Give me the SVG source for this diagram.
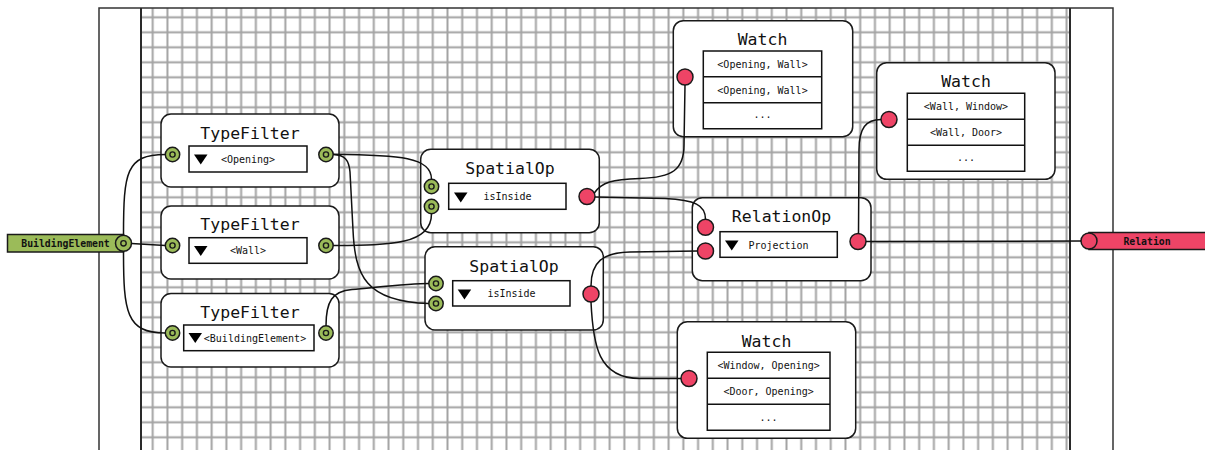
<svg xmlns="http://www.w3.org/2000/svg" xmlns:xlink="http://www.w3.org/1999/xlink" width="1205" height="450" viewBox="0 0 1205 450">
  <style>
    text { font-family: "DejaVu Sans Mono", "Liberation Mono", monospace; fill: #111; text-anchor: middle; }
    .title { font-size: 16.5px; }
    .small { font-size: 10px; }
    .label { font-size: 9.8px; font-weight: bold; }
    .frame { stroke: #333; stroke-width: 1.5; fill: none; }
    .border { stroke: #2a2a2a; stroke-width: 2; fill: none; }
    .node { fill: #fff; stroke: #1a1a1a; stroke-width: 1.5; }
    .box { fill: #fff; stroke: #111; stroke-width: 1.5; }
    .wire { fill: none; stroke: #111; stroke-width: 1.5; }
    .green { fill: #9bbb59; stroke: #1a1a1a; stroke-width: 1.5; }
    .red { fill: #ee4466; stroke: #1a1a1a; stroke-width: 1.5; }
  </style>
  <defs>
    <pattern id="grid" patternUnits="userSpaceOnUse" x="145.33" y="9.8" width="14.74" height="15">
      <path d="M7.37,0 V15 M0,7.5 H14.74" stroke="#a3a3a3" stroke-width="2" fill="none"/>
    </pattern>
    <g id="gport">
      <circle r="7.2" class="green"/>
      <circle r="2.6" fill="none" stroke="#1a1a1a" stroke-width="1.4"/>
    </g>
    <circle id="rport" r="8" class="red"/>
    <path id="tri" d="M0,0 H13.5 L6.75,10 Z" fill="#000"/>
  </defs>

  <!-- background and canvas frame -->
  <rect width="1205" height="450" fill="#fff"/>
  <rect x="141" y="8" width="929" height="442" fill="url(#grid)"/>
  <path class="frame" d="M99,452 V8 H1113 V452"/>
  <path class="border" d="M141,8 V452 M1070,8 V452"/>

  <!-- source terminal -->
  <g id="src-building-element">
    <rect x="7.5" y="234.5" width="116" height="17.5" class="green"/>
    <text x="65.5" y="246.8" class="label">BuildingElement</text>
    <circle cx="123.5" cy="243.3" r="8" class="green"/>
    <circle cx="123.5" cy="243.3" r="2.7" fill="none" stroke="#1a1a1a" stroke-width="1.4"/>
  </g>

  <!-- sink terminal -->
  <g id="sink-relation">
    <rect x="1089" y="232.5" width="120" height="17" class="red"/>
    <text x="1147" y="244.5" class="label">Relation</text>
    <use xlink:href="#rport" x="1089" y="241"/>
  </g>

  <g id="typefilter-opening">
    <rect x="161" y="114" width="178" height="73" rx="10" class="node"/>
    <text x="250" y="138.5" class="title">TypeFilter</text>
    <rect x="189" y="146" width="118" height="26" class="box"/>
    <use xlink:href="#tri" x="194" y="154.5"/>
    <text x="248" y="162.5" class="small">&lt;Opening&gt;</text>
    <use xlink:href="#gport" x="172.5" y="154.5"/>
    <use xlink:href="#gport" x="326" y="154.5"/>
  </g>

  <g id="typefilter-wall">
    <rect x="161" y="206" width="178" height="73" rx="10" class="node"/>
    <text x="250" y="230" class="title">TypeFilter</text>
    <rect x="189" y="237.7" width="118" height="25.6" class="box"/>
    <use xlink:href="#tri" x="194" y="246"/>
    <text x="248" y="254.3" class="small">&lt;Wall&gt;</text>
    <use xlink:href="#gport" x="172.5" y="245.5"/>
    <use xlink:href="#gport" x="326" y="245.5"/>
  </g>

  <g id="typefilter-building">
    <rect x="161" y="293.5" width="178" height="73.5" rx="10" class="node"/>
    <text x="250" y="317.5" class="title">TypeFilter</text>
    <rect x="183.7" y="325" width="130.3" height="25.7" class="box"/>
    <use xlink:href="#tri" x="188.5" y="333"/>
    <text x="255" y="342" class="small">&lt;BuildingElement&gt;</text>
    <use xlink:href="#gport" x="172.5" y="333"/>
    <use xlink:href="#gport" x="326" y="333"/>
  </g>

  <g id="spatialop-1">
    <rect x="420.7" y="149.3" width="178.6" height="83.4" rx="10" class="node"/>
    <text x="510" y="174.3" class="title">SpatialOp</text>
    <rect x="448.7" y="183.3" width="117.3" height="26" class="box"/>
    <use xlink:href="#tri" x="454" y="192.5"/>
    <text x="507.5" y="200.3" class="small">isInside</text>
    <use xlink:href="#gport" x="431.5" y="186.5"/>
    <use xlink:href="#gport" x="431.5" y="206.5"/>
    <use xlink:href="#rport" x="587" y="196.5"/>
  </g>

  <g id="spatialop-2">
    <rect x="425" y="246.7" width="178.3" height="83.3" rx="10" class="node"/>
    <text x="514" y="271.7" class="title">SpatialOp</text>
    <rect x="452.7" y="280.7" width="117.3" height="25.3" class="box"/>
    <use xlink:href="#tri" x="457.7" y="289.5"/>
    <text x="511.5" y="297" class="small">isInside</text>
    <use xlink:href="#gport" x="436" y="283.5"/>
    <use xlink:href="#gport" x="436" y="303.5"/>
    <use xlink:href="#rport" x="591" y="294"/>
  </g>

  <g id="relationop">
    <rect x="692.3" y="197.7" width="178.7" height="83" rx="10" class="node"/>
    <text x="781.5" y="221.7" class="title">RelationOp</text>
    <rect x="720" y="231.7" width="117.3" height="25.6" class="box"/>
    <use xlink:href="#tri" x="725" y="240.5"/>
    <text x="778.5" y="248.6" class="small">Projection</text>
    <use xlink:href="#rport" x="705.5" y="227.3"/>
    <use xlink:href="#rport" x="705.5" y="251"/>
    <use xlink:href="#rport" x="858" y="241.5"/>
  </g>

  <g id="watch-1">
    <rect x="673.3" y="20.7" width="179.4" height="116" rx="10" class="node"/>
    <text x="762.5" y="45" class="title">Watch</text>
    <path class="box" d="M703.3,51 H821.7 V128.7 H703.3 Z M703.3,76.7 H821.7 M703.3,102.7 H821.7"/>
    <text x="762.5" y="67.5" class="small">&lt;Opening, Wall&gt;</text>
    <text x="762.5" y="93.5" class="small">&lt;Opening, Wall&gt;</text>
    <text x="762.5" y="118" class="small">...</text>
    <use xlink:href="#rport" x="685" y="77"/>
  </g>

  <g id="watch-2">
    <rect x="876.7" y="62.7" width="178.3" height="116.6" rx="10" class="node"/>
    <text x="966" y="86.7" class="title">Watch</text>
    <path class="box" d="M907.3,93.3 H1024.7 V171.3 H907.3 Z M907.3,119.3 H1024.7 M907.3,145.3 H1024.7"/>
    <text x="966" y="110" class="small">&lt;Wall, Window&gt;</text>
    <text x="966" y="136" class="small">&lt;Wall, Door&gt;</text>
    <text x="966" y="161" class="small">...</text>
    <use xlink:href="#rport" x="889" y="119.5"/>
  </g>

  <g id="watch-3">
    <rect x="677.3" y="321.7" width="178.4" height="116.6" rx="10" class="node"/>
    <text x="766.5" y="346.7" class="title">Watch</text>
    <path class="box" d="M707.3,352.3 H830 V430.3 H707.3 Z M707.3,378.3 H830 M707.3,404.3 H830"/>
    <text x="768.6" y="369" class="small">&lt;Window, Opening&gt;</text>
    <text x="768.6" y="395" class="small">&lt;Door, Opening&gt;</text>
    <text x="768.6" y="421" class="small">...</text>
    <use xlink:href="#rport" x="689" y="378.5"/>
  </g>

  <!-- connectors, ending at port rims -->
  <g id="connectors">
    <path class="wire" d="M123.5,235.3 C123.5,172 126,154.5 165.3,154.5"/>
    <path class="wire" d="M131.5,243.5 L165.3,245.5"/>
    <path class="wire" d="M123.5,251.3 C123.5,312 126,333 165.3,333"/>
    <path class="wire" d="M333.2,154.3 C400,155 431.5,157 431.5,179.3"/>
    <path class="wire" d="M333.2,154.5 C345,155 349,160 350,172 L353,230 C355,275 365,302 428.8,303.5"/>
    <path class="wire" d="M333.2,245.5 C390,245 431.5,245 431.5,213.7"/>
    <path class="wire" d="M326,325.8 C326,302 332,291 352,289.5 C380,287 410,283.5 428.8,283.5"/>
    <path class="wire" d="M594.3,193 C602,182 612,179.5 640,178.5 C672,177.5 684,170 684,145 L685,85"/>
    <path class="wire" d="M595,197 L665,198.5 C695,200 705.5,205 705.5,219.3"/>
    <path class="wire" d="M591,286 C591,262 603,252.5 630,252 L697.5,251"/>
    <path class="wire" d="M591,302 C593,345 598,378.5 640,378.5 L681,378.5"/>
    <path class="wire" d="M858.5,233.5 L859,150 C859,128 866,119.5 881,119.5"/>
    <path class="wire" d="M866,241.5 L1081,241"/>
  </g>
</svg>
